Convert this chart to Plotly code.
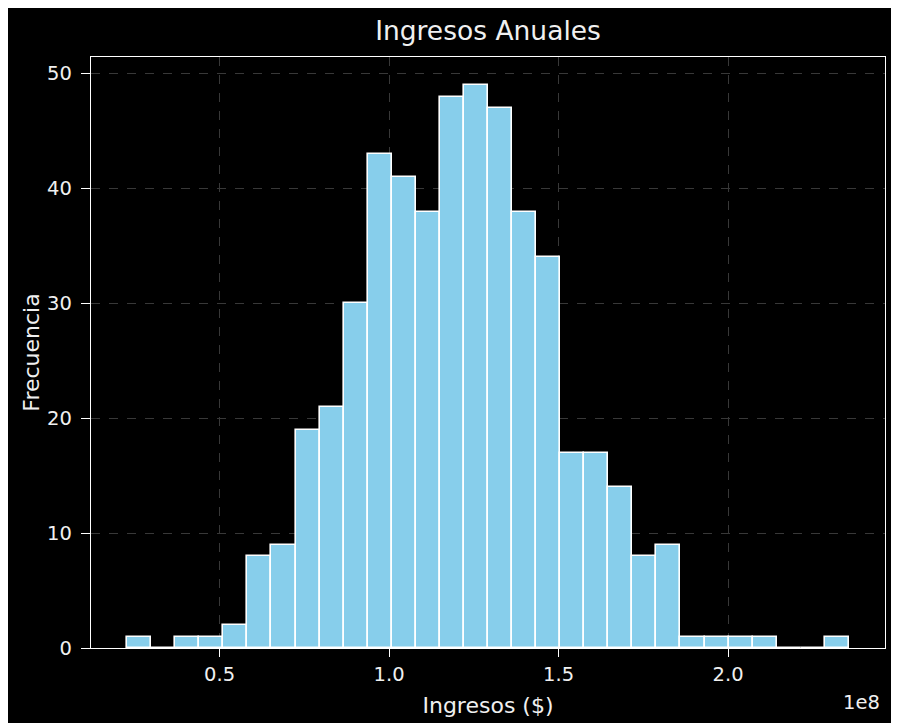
import plotly.graph_objects as go

# Histogram data
bin_start = 22.72e6          # left edge of first bin ($)
bin_width = 7.097e6          # bin width ($)
counts = [1, 0, 1, 1, 2, 8, 9, 19, 21, 30,
          43, 41, 38, 48, 49, 47, 38, 34, 17, 17,
          14, 8, 9, 1, 1, 1, 1, 0, 0, 1]
x_tick_vals = [0.5e8, 1.0e8, 1.5e8, 2.0e8]
x_tick_text = ["0.5", "1.0", "1.5", "2.0"]
y_tick_vals = [0, 10, 20, 30, 40, 50]

centers = [bin_start + bin_width * (i + 0.5) for i in range(len(counts))]
x_lo = bin_start
x_hi = bin_start + bin_width * len(counts)
pad = 0.05 * (x_hi - x_lo)

FONT = "DejaVu Sans"
TXT = "#f0f0f0"

fig = go.Figure(go.Bar(
    x=centers, y=counts, width=[bin_width] * len(counts),
    marker=dict(color="#87CEEB", line=dict(color="white", width=1.6)),
    hoverinfo="x+y",
))

fig.update_layout(
    width=899, height=723,
    paper_bgcolor="black", plot_bgcolor="black",
    margin=dict(l=83, r=22, t=49, b=83),
    bargap=0, showlegend=False,
    font=dict(family=FONT, color=TXT, size=19),
    title=dict(text="Ingresos Anuales", x=0.5, xanchor="center", xref="paper",
               y=1 - 23 / 723, yanchor="middle", yref="container",
               font=dict(size=26.5, family=FONT, color=TXT)),
)

fig.update_xaxes(
    range=[x_lo - pad, x_hi + pad],
    tickvals=x_tick_vals, ticktext=x_tick_text,
    showline=True, mirror=True, linecolor="white", linewidth=1.4,
    ticks="outside", ticklen=8, tickwidth=1.4, tickcolor="white",
    showgrid=True, gridcolor="#383838", griddash="dash", gridwidth=1,
    zeroline=False,
    tickfont=dict(size=19.5, family=FONT, color=TXT),
    title=dict(text="Ingresos ($)", standoff=13,
               font=dict(size=22, family=FONT, color=TXT)),
)
fig.update_yaxes(
    range=[0, max(counts) * 1.05],
    tickvals=y_tick_vals,
    showline=True, mirror=True, linecolor="white", linewidth=1.4,
    ticks="outside", ticklen=9, tickwidth=1.4, tickcolor="white",
    ticklabelstandoff=5,
    showgrid=True, gridcolor="#383838", griddash="dash", gridwidth=1,
    zeroline=False,
    tickfont=dict(size=19.5, family=FONT, color=TXT),
    title=dict(text="Frecuencia", standoff=1,
               font=dict(size=22, family=FONT, color=TXT)),
)

fig.add_annotation(
    text="1e8", xref="paper", yref="paper",
    x=0.996, y=-54 / 591, xanchor="right", yanchor="middle",
    showarrow=False, font=dict(size=19.5, family=FONT, color=TXT),
)

fig.write_html("out.html")
